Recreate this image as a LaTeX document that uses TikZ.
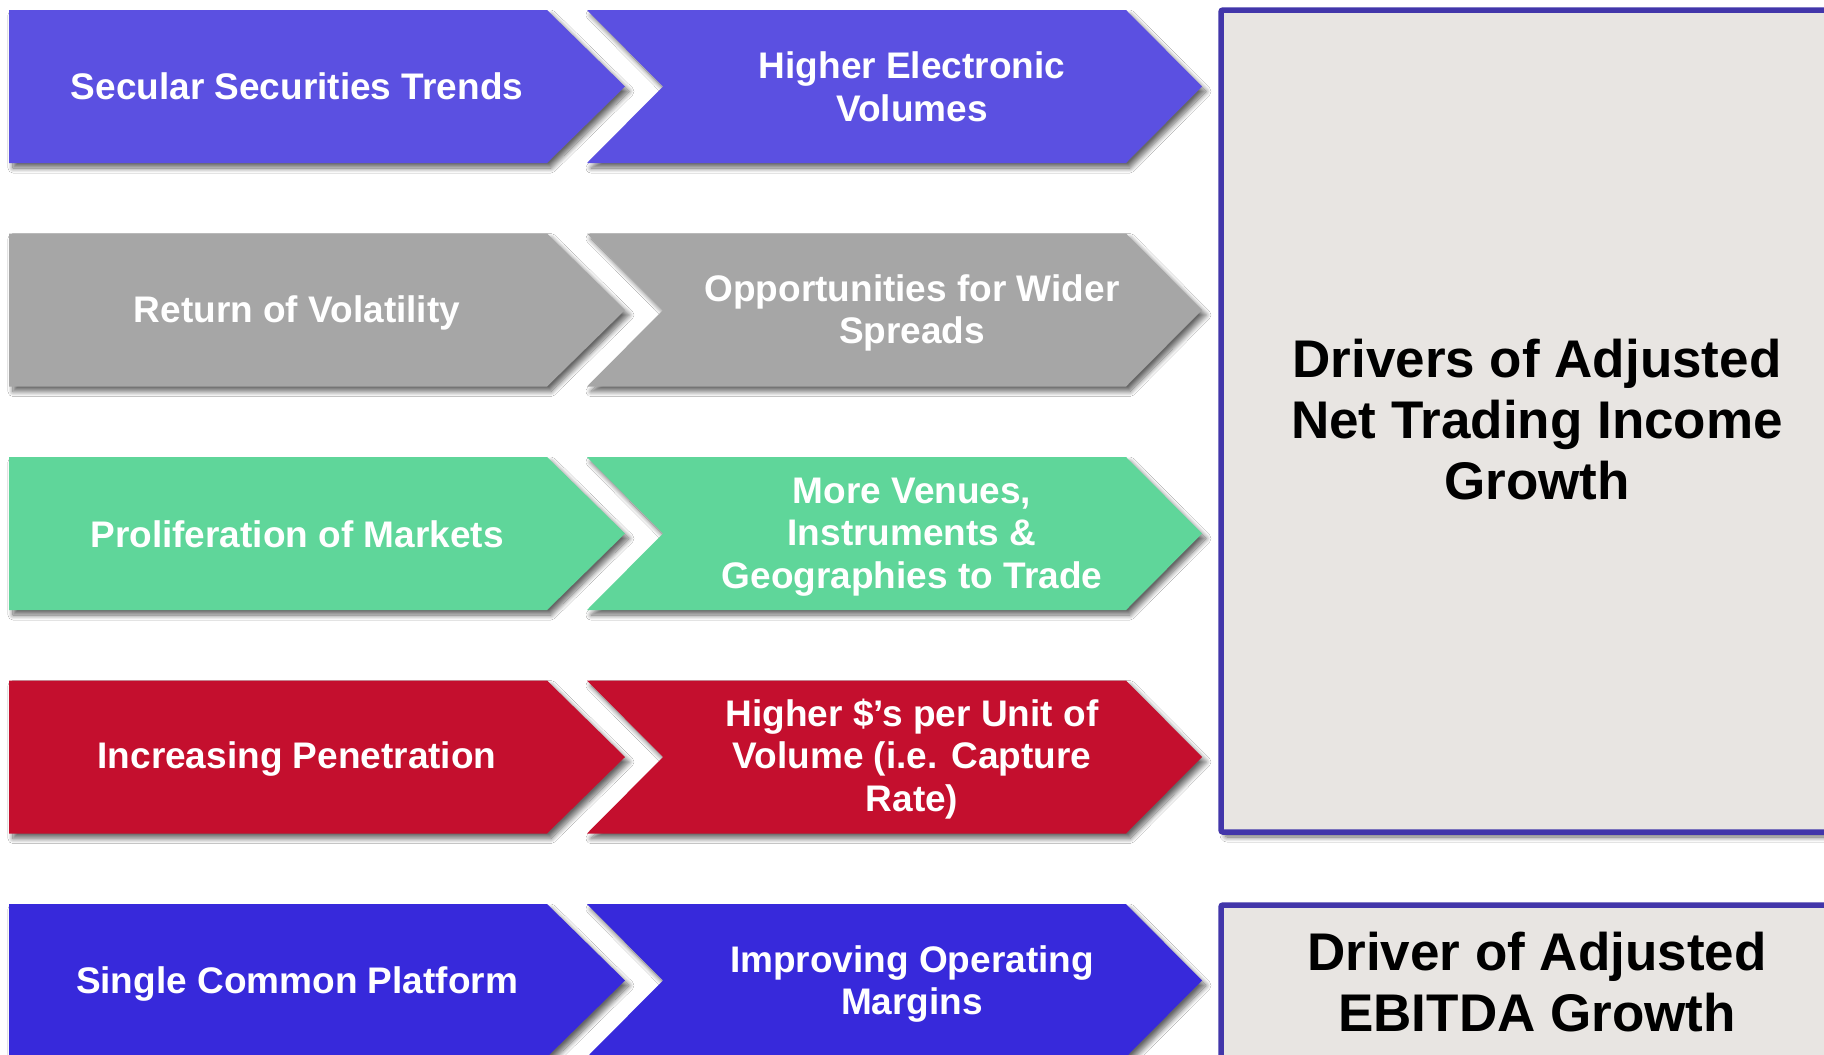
\documentclass[tikz,border=0pt]{standalone}
\usepackage{fontspec}
\setmainfont{Liberation Sans}
\usetikzlibrary{shadows.blur}
\definecolor{cA}{HTML}{5B50E1}
\definecolor{cB}{HTML}{A6A6A6}
\definecolor{cC}{HTML}{5FD69A}
\definecolor{cD}{HTML}{C40F2E}
\definecolor{cE}{HTML}{3729DB}
\definecolor{boxfill}{HTML}{E8E5E2}
\definecolor{boxline}{HTML}{4236AA}
\tikzset{
  shade/.style={blur shadow={shadow xshift=4pt, shadow yshift=-5pt, shadow blur radius=5pt, shadow blur steps=10, shadow opacity=60}},
  chev/.style={fill=#1, shade},
  lbl/.style={text=white, font=\bfseries\fontsize{37}{42.5}\selectfont, align=center, inner sep=0pt},
  bigbox/.style={fill=boxfill, draw=boxline, line width=5.5pt, rounded corners=2pt, shade},
  biglbl/.style={text=black, font=\bfseries\fontsize{53}{61}\selectfont, align=center, inner sep=0pt}
}
\begin{document}
\begin{tikzpicture}[x=1pt, y=-1pt]
\useasboundingbox (0,0) rectangle (1824,1055);
\clip (0,0) rectangle (1824,1055);
\fill[white] (0,0) rectangle (1824,1055);
% rows
\foreach \c [count=\i from 0] in {cA,cB,cC,cD,cE}{
  \pgfmathsetmacro{\T}{10+223.5*\i}
  \pgfmathsetmacro{\B}{\T+153}
  \pgfmathsetmacro{\M}{\T+76.5}
  \path[chev=\c] (9,\T) -- (547,\T) -- (625,\M) -- (547,\B) -- (9,\B) -- cycle;
  \path[chev=\c] (587,\T) -- (1126,\T) -- (1202,\M) -- (1126,\B) -- (587,\B) -- (663,\M) -- cycle;
}
% boxes
\path[bigbox] (1221,10) rectangle (1862,832);
\path[bigbox] (1221,905) rectangle (1862,1080);
% labels
\node[lbl] (l1) at (297,86) {Secular Securities Trends};
\node[lbl] (r1) at (912,87) {Higher Electronic\\Volumes};
\node[lbl] (l2) at (297,313) {Return of Volatility};
\node[lbl] (r2) at (912,313) {Opportunities for Wider\\Spreads};
\node[lbl] (l3) at (297,534) {Proliferation of Markets};
\node[lbl] (r3) at (912,537) {More Venues,\\Instruments \&\\Geographies to Trade};
\node[lbl] (l4) at (297,759) {Increasing Penetration};
\node[lbl] (r4) at (912,759) {Higher \$’s per Unit of\\Volume (i.e. Capture\\Rate)};
\node[lbl] (l5) at (297,984) {Single Common Platform};
\node[lbl] (r5) at (912,984) {Improving Operating\\Margins};
\node[biglbl] (b1) at (1537,420) {Drivers of Adjusted\\Net Trading Income\\Growth};
\node[biglbl] (b2) at (1537,982) {Driver of Adjusted\\EBITDA Growth};
\end{tikzpicture}
\end{document}
